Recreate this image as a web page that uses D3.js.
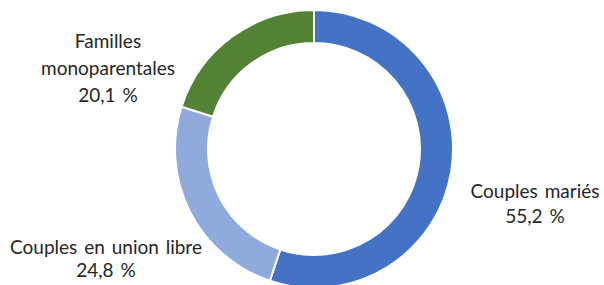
<!DOCTYPE html>
<html>
<head>
<meta charset="utf-8">
<script src="https://cdn.jsdelivr.net/npm/d3@7"></script>
<style>
  html, body { margin: 0; padding: 0; background: #fff; }
  svg { display: block; }
  text { font-family: Lato, "Open Sans", sans-serif; fill: #262626; }
</style>
</head>
<body>
<svg id="chart" width="604" height="285"></svg>
<script>
const categories = ["Couples mariés", "Couples en union libre", "Familles monoparentales"];
const values = [55.2, 24.8, 20.1];
const valueLabels = ["55,2 %", "24,8 %", "20,1 %"];
const labelLines = [["Couples mariés"], ["Couples en union libre"], ["Familles", "monoparentales"]];

const palette = ["#4472C4", "#8FAADC", "#548235"];
const labelPos = [
  { x: 535, y: 198, lh: 25 },
  { x: 106, y: 254, lh: 23 },
  { x: 108, y: 48, lh: 27 }
];

const svg = d3.select("#chart");
const cx = 314, cy = 149, rOuter = 139, rInner = 106;

const pie = d3.pie().sort(null).value(d => d).startAngle(0).endAngle(2 * Math.PI);
const arc = d3.arc().innerRadius(rInner).outerRadius(rOuter);

const g = svg.append("g").attr("transform", `translate(${cx},${cy})`);
g.selectAll("path")
  .data(pie(values))
  .join("path")
  .attr("d", arc)
  .attr("fill", (d, i) => palette[i])
  .attr("stroke", "#fff")
  .attr("stroke-width", 2);

categories.forEach((c, i) => {
  const p = labelPos[i];
  const t = svg.append("text")
    .attr("text-anchor", "middle")
    .attr("font-size", 19);
  const lines = labelLines[i].concat([valueLabels[i]]);
  lines.forEach((ln, j) => {
    t.append("tspan")
      .attr("x", p.x)
      .attr("y", p.y + j * p.lh)
      .attr("word-spacing", 2)
      .text(ln);
  });
});
</script>
</body>
</html>
